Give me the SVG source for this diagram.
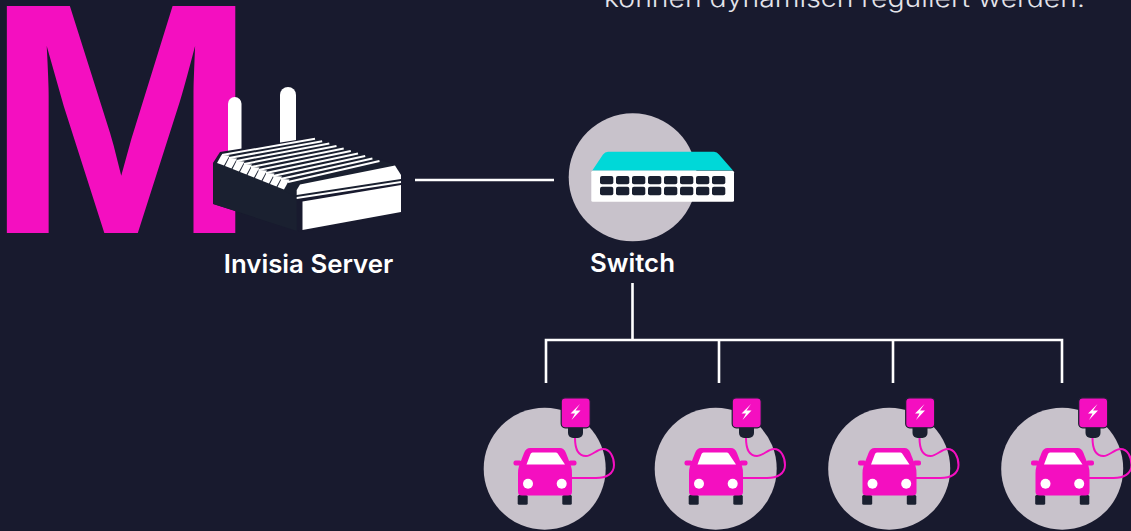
<svg xmlns="http://www.w3.org/2000/svg" width="1131" height="531" viewBox="0 0 1131 531">
<style>
.bg{fill:#181a2e}
.disc{fill:#c8c2cb}
.wire{fill:none;stroke:#fff;stroke-width:2.6}
.lbl{font-family:"Inter","Liberation Sans",sans-serif;font-weight:600;font-size:25.800px;fill:#fff;text-anchor:middle}
.mag{fill:#f40fc0}
.dark{fill:#1a2030}
.port{fill:#1a2030}
</style>
<defs>
<g id="ev">
<circle class="disc" cx="544.7" cy="468.7" r="61"/>
<rect class="dark" x="568" y="420" width="15" height="18" rx="5"/>
<rect class="mag" x="561.200" y="397.800" width="29" height="30" rx="4" stroke="#1a2030" stroke-width="1.200"/>
<path d="M580 404L570.500 413.500H575L571.500 420L580.500 410.500H575.500Z" fill="#fff"/>
<path d="M575 438C575 452 580 456 586 456C592 456 597 449 603 449C610 449 614 457 614 465C614 474 606 478 596 478H570" fill="none" stroke="#f40fc0" stroke-width="2"/>
<rect class="dark" x="517.700" y="495" width="10" height="9.700" rx="1.500"/>
<rect class="dark" x="562.300" y="495" width="9.500" height="9.700" rx="1.500"/>
<rect class="mag" x="513.500" y="460.500" width="8" height="5" rx="2"/>
<rect class="mag" x="568.500" y="460.500" width="8" height="5" rx="2"/>
<path class="mag" d="M530 448H560Q564 448 566 453L571 466Q572 469 572 474V492Q572 495.500 568 495.500H522Q518 495.500 518 492V474Q518 469 519 466L524 453Q526 448 530 448Z"/>
<path d="M532.500 452.500H556Q557.500 452.500 558 454L565 464.500H526.500L530.500 454Q531 452.500 532.500 452.500Z" fill="#fff"/>
<circle cx="528" cy="483.700" r="5" fill="#fff"/>
<circle cx="561.700" cy="483.700" r="5" fill="#fff"/>
</g>
</defs>
<rect class="bg" width="1131" height="531"/>
<text x="1085" y="7" text-anchor="end" font-family="Inter,'Liberation Sans',sans-serif" font-weight="300" font-size="24.500" fill="#e4e4ea" textLength="481" lengthAdjust="spacingAndGlyphs">können dynamisch reguliert werden.</text>
<text id="bigm" transform="translate(-15 233) scale(.99 1)" font-family="'Liberation Sans',Arial,sans-serif" font-weight="700" font-size="330" style="fill:#f40fc0">M</text>
<g id="connectors">
<path class="wire" d="M415 180H554"/>
<path class="wire" d="M632.500 283V340M546 383V340H1062V383M719 340V383M893 340V383"/>
</g>
<g id="server">
<rect x="228" y="97" width="13.500" height="70" rx="6.700" fill="#fff"/>
<rect x="280" y="87" width="16" height="70" rx="8" fill="#fff"/>
<path d="M220 152L315 137L392 163L402 180V214L302 232L213 204V163Z" style="fill:#181a2e"/>
<path class="dark" d="M213.500 163L220 153.500L296.700 187V231L213.500 204Z"/>
<path class="dark" d="M220 153.500L315 138.700L395 165L401 175V182L297 198Z"/>
<g fill="none" stroke="#fff" stroke-width="2">
<path d="M222 155L315 138.700"/><path d="M229 158L322.200 141.200"/><path d="M236.500 161L329.300 143.600"/><path d="M244 164L336.500 146"/><path d="M251 167L343.700 148.500"/><path d="M258.500 170L350.800 151"/><path d="M266 173L358 153.500"/><path d="M273 176L365.200 156"/><path d="M280.500 179L372.400 158.500"/><path d="M288 182L379.500 161"/>
</g>
<g fill="#fff">
<path d="M217 163L221.500 155L229.500 155.500L224 165.500Z"/><path d="M225 166L229 158L237 158.500L231.500 168.500Z"/><path d="M232.500 169L236.500 161L244.500 161.500L239 171.500Z"/><path d="M240 172L244 164L252 164.500L246.500 174.500Z"/><path d="M247.500 175L251.500 167L259.500 167.500L254 177.500Z"/><path d="M255 178L259 170L267 170.500L261.500 180.500Z"/><path d="M262.500 181L266.500 173L274.500 173.500L269 183.500Z"/><path d="M270 184L274 176L282 176.500L276.500 186.500Z"/><path d="M277.500 187L281.500 179L289.500 179.500L284 189.500Z"/>
<path d="M300 184.500L395 165.500L401 175V179L296.700 195V190Z"/>
<path d="M296.700 197L401 181V183L296.700 199Z"/>
<path d="M302.500 201.500L401 185V212L302.500 230Z"/>
</g>
</g>
<text class="lbl" x="308.500" y="273">Invisia Server</text>
<g id="switch">
<circle class="disc" cx="632.700" cy="177.300" r="64"/>
<path d="M592.300 170.500L603 154.500Q605 151.700 608 151.700H714Q717 151.700 719 154.500L733 170.500Z" fill="#00d8d8"/>
<rect x="591.300" y="170.700" width="142.700" height="31" rx="1.500" fill="#fff"/>
<g class="port">
<rect x="600" y="176" width="13.300" height="8.300" rx="2"/><rect x="616" y="176" width="13.300" height="8.300" rx="2"/><rect x="632" y="176" width="13.300" height="8.300" rx="2"/><rect x="648" y="176" width="13.300" height="8.300" rx="2"/><rect x="664" y="176" width="13.300" height="8.300" rx="2"/><rect x="680" y="176" width="13.300" height="8.300" rx="2"/><rect x="696" y="176" width="13.300" height="8.300" rx="2"/><rect x="712" y="176" width="13.300" height="8.300" rx="2"/>
<rect x="600" y="186.700" width="13.300" height="8.600" rx="2"/><rect x="616" y="186.700" width="13.300" height="8.600" rx="2"/><rect x="632" y="186.700" width="13.300" height="8.600" rx="2"/><rect x="648" y="186.700" width="13.300" height="8.600" rx="2"/><rect x="664" y="186.700" width="13.300" height="8.600" rx="2"/><rect x="680" y="186.700" width="13.300" height="8.600" rx="2"/><rect x="696" y="186.700" width="13.300" height="8.600" rx="2"/><rect x="712" y="186.700" width="13.300" height="8.600" rx="2"/>
</g>
</g>
<text class="lbl" x="632.500" y="272">Switch</text>
<g id="ev1"><use href="#ev"/></g>
<g id="ev2"><use href="#ev" x="171"/></g>
<g id="ev3"><use href="#ev" x="344.500"/></g>
<g id="ev4"><use href="#ev" x="517.500"/></g>
</svg>
